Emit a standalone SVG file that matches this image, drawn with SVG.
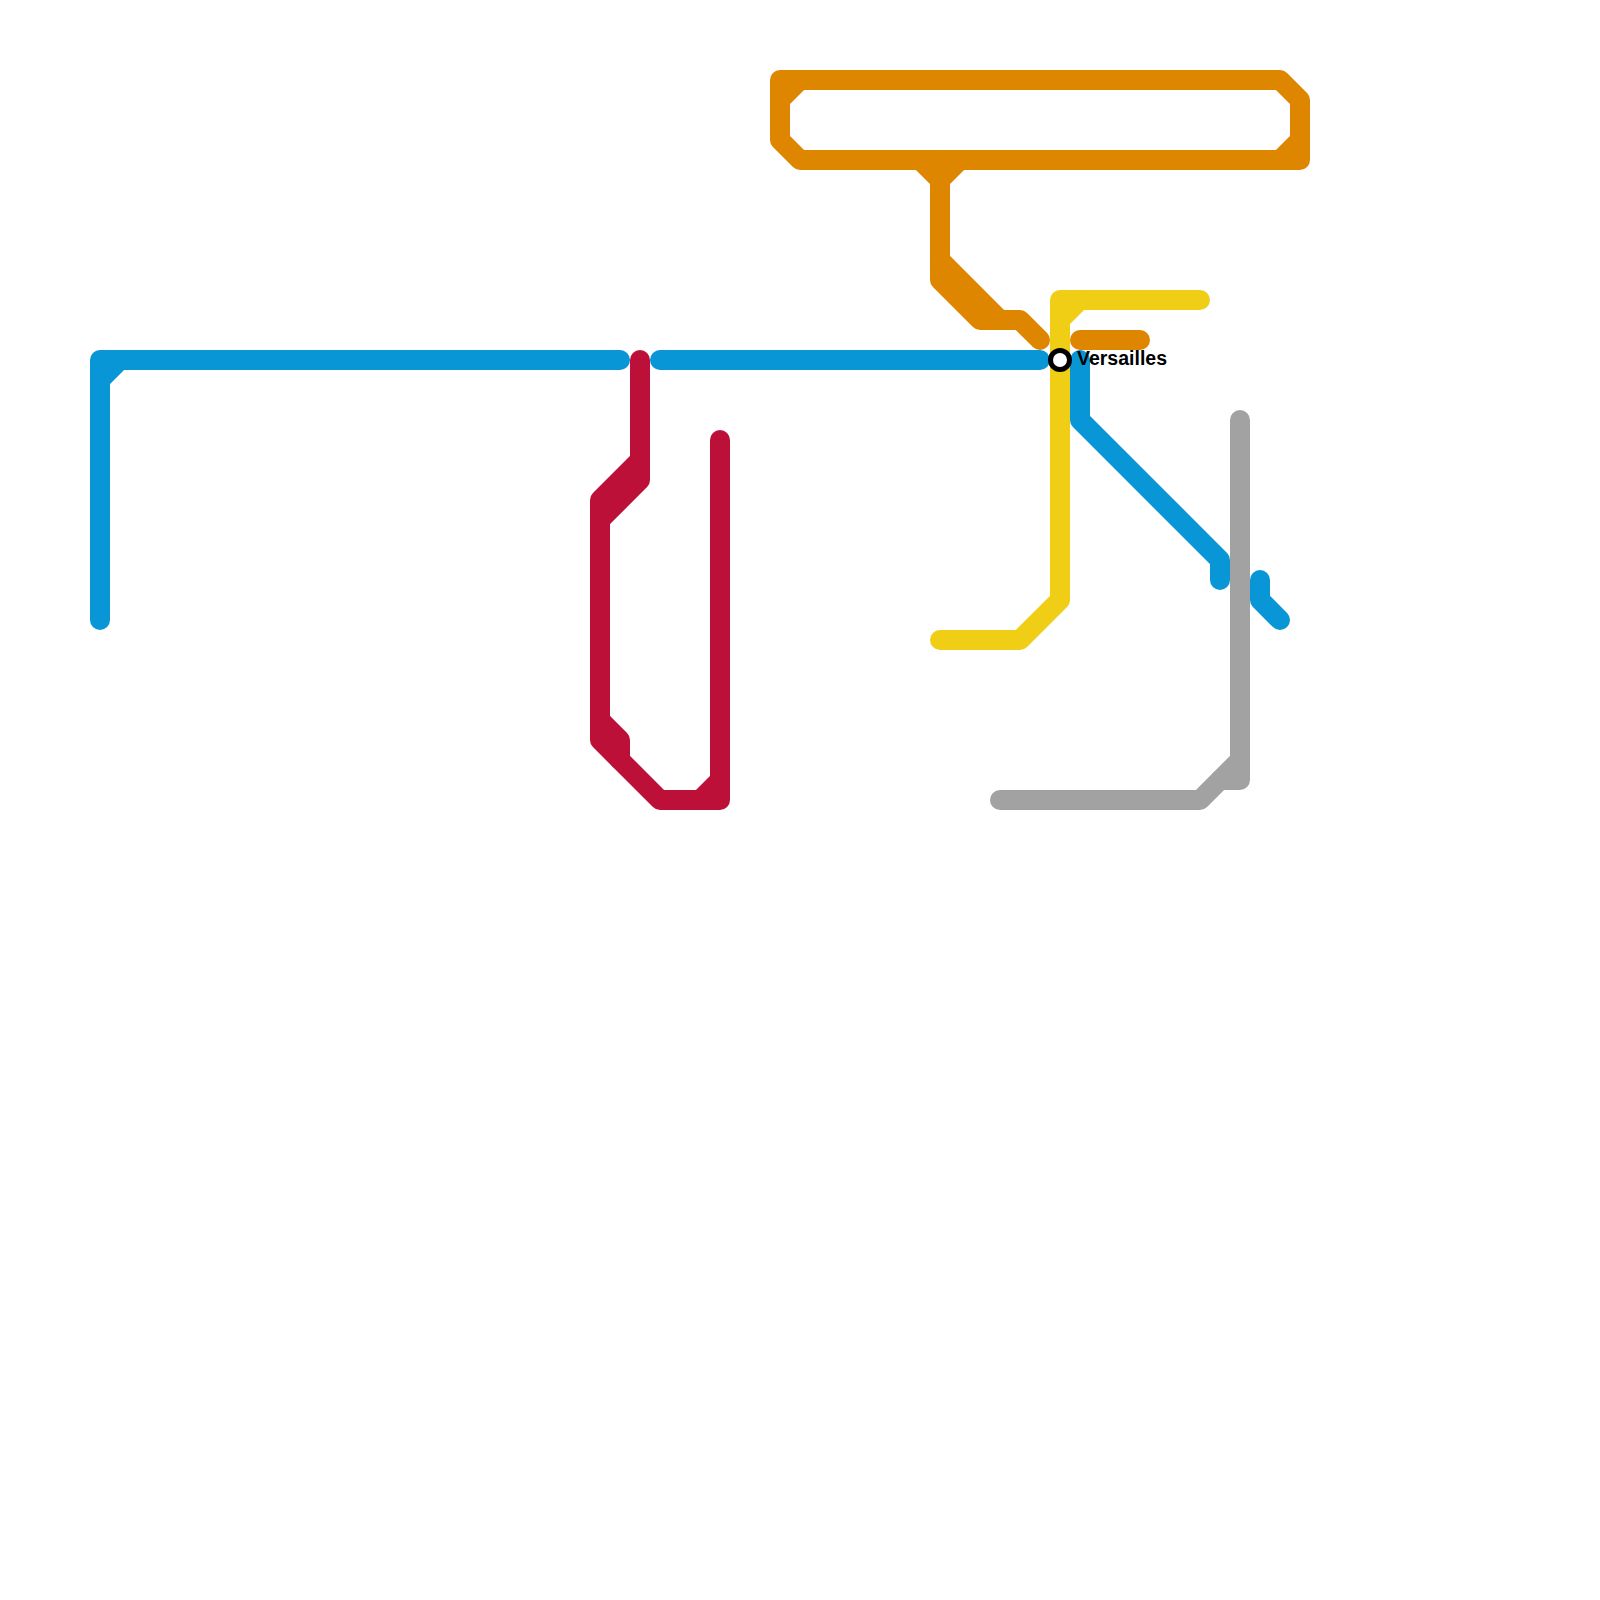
<svg xmlns="http://www.w3.org/2000/svg" width="1600" height="1600" viewBox="0 0 1600 1600">
<style>
.l{fill:none;stroke-width:20;stroke-linecap:round;stroke-linejoin:round}
.blue{stroke:#0896d7}.orange{stroke:#df8600}.crimson{stroke:#bd1038}.yellow{stroke:#f0ce15}.gray{stroke:#a2a2a2}
.st{fill:#fff;stroke:#000;stroke-width:5}
.lbl{font-family:"Liberation Sans",Arial,sans-serif;font-weight:700;font-size:19.5px;fill:#000}
</style>
<rect width="1600" height="1600" fill="#fff"/>
<g id="connectors">
<g id="line-blue">
<path class="l blue" d="M620 360H100V620"/>
<path class="l blue" d="M100 380L120 360"/>
<path class="l blue" d="M660 360H1040"/>
<path class="l blue" d="M1080 360V420L1220 560V580"/>
<path class="l blue" d="M1260 580V600L1280 620"/>
</g>
<g id="line-orange">
<path class="l orange" d="M780 80H1280L1300 100V160H800L780 140Z"/>
<path class="l orange" d="M780 100L800 80"/>
<path class="l orange" d="M1280 160L1300 140"/>
<path class="l orange" d="M920 160L940 180L960 160"/>
<path class="l orange" d="M940 160V280L980 320H1020L1040 340"/>
<path class="l orange" d="M940 260L1000 320"/>
<path class="l orange" d="M1080 340H1140"/>
</g>
<g id="line-crimson">
<path class="l crimson" d="M640 360V480L600 520V740L660 800H720V440"/>
<path class="l crimson" d="M640 460L600 500V520"/>
<path class="l crimson" d="M600 720L620 740V760"/>
<path class="l crimson" d="M700 800L720 780"/>
</g>
<g id="line-yellow">
<path class="l yellow" d="M1200 300H1060V600L1020 640H940"/>
<path class="l yellow" d="M1060 320L1080 300"/>
</g>
<g id="line-gray">
<path class="l gray" d="M1240 420V780H1220"/>
<path class="l gray" d="M1240 760L1200 800H1000"/>
</g>
</g>
<g id="station-versailles">
<circle class="st" cx="1060" cy="360" r="9.5"/>
<text class="lbl" x="1077" y="365">Versailles</text>
</g>
</svg>
